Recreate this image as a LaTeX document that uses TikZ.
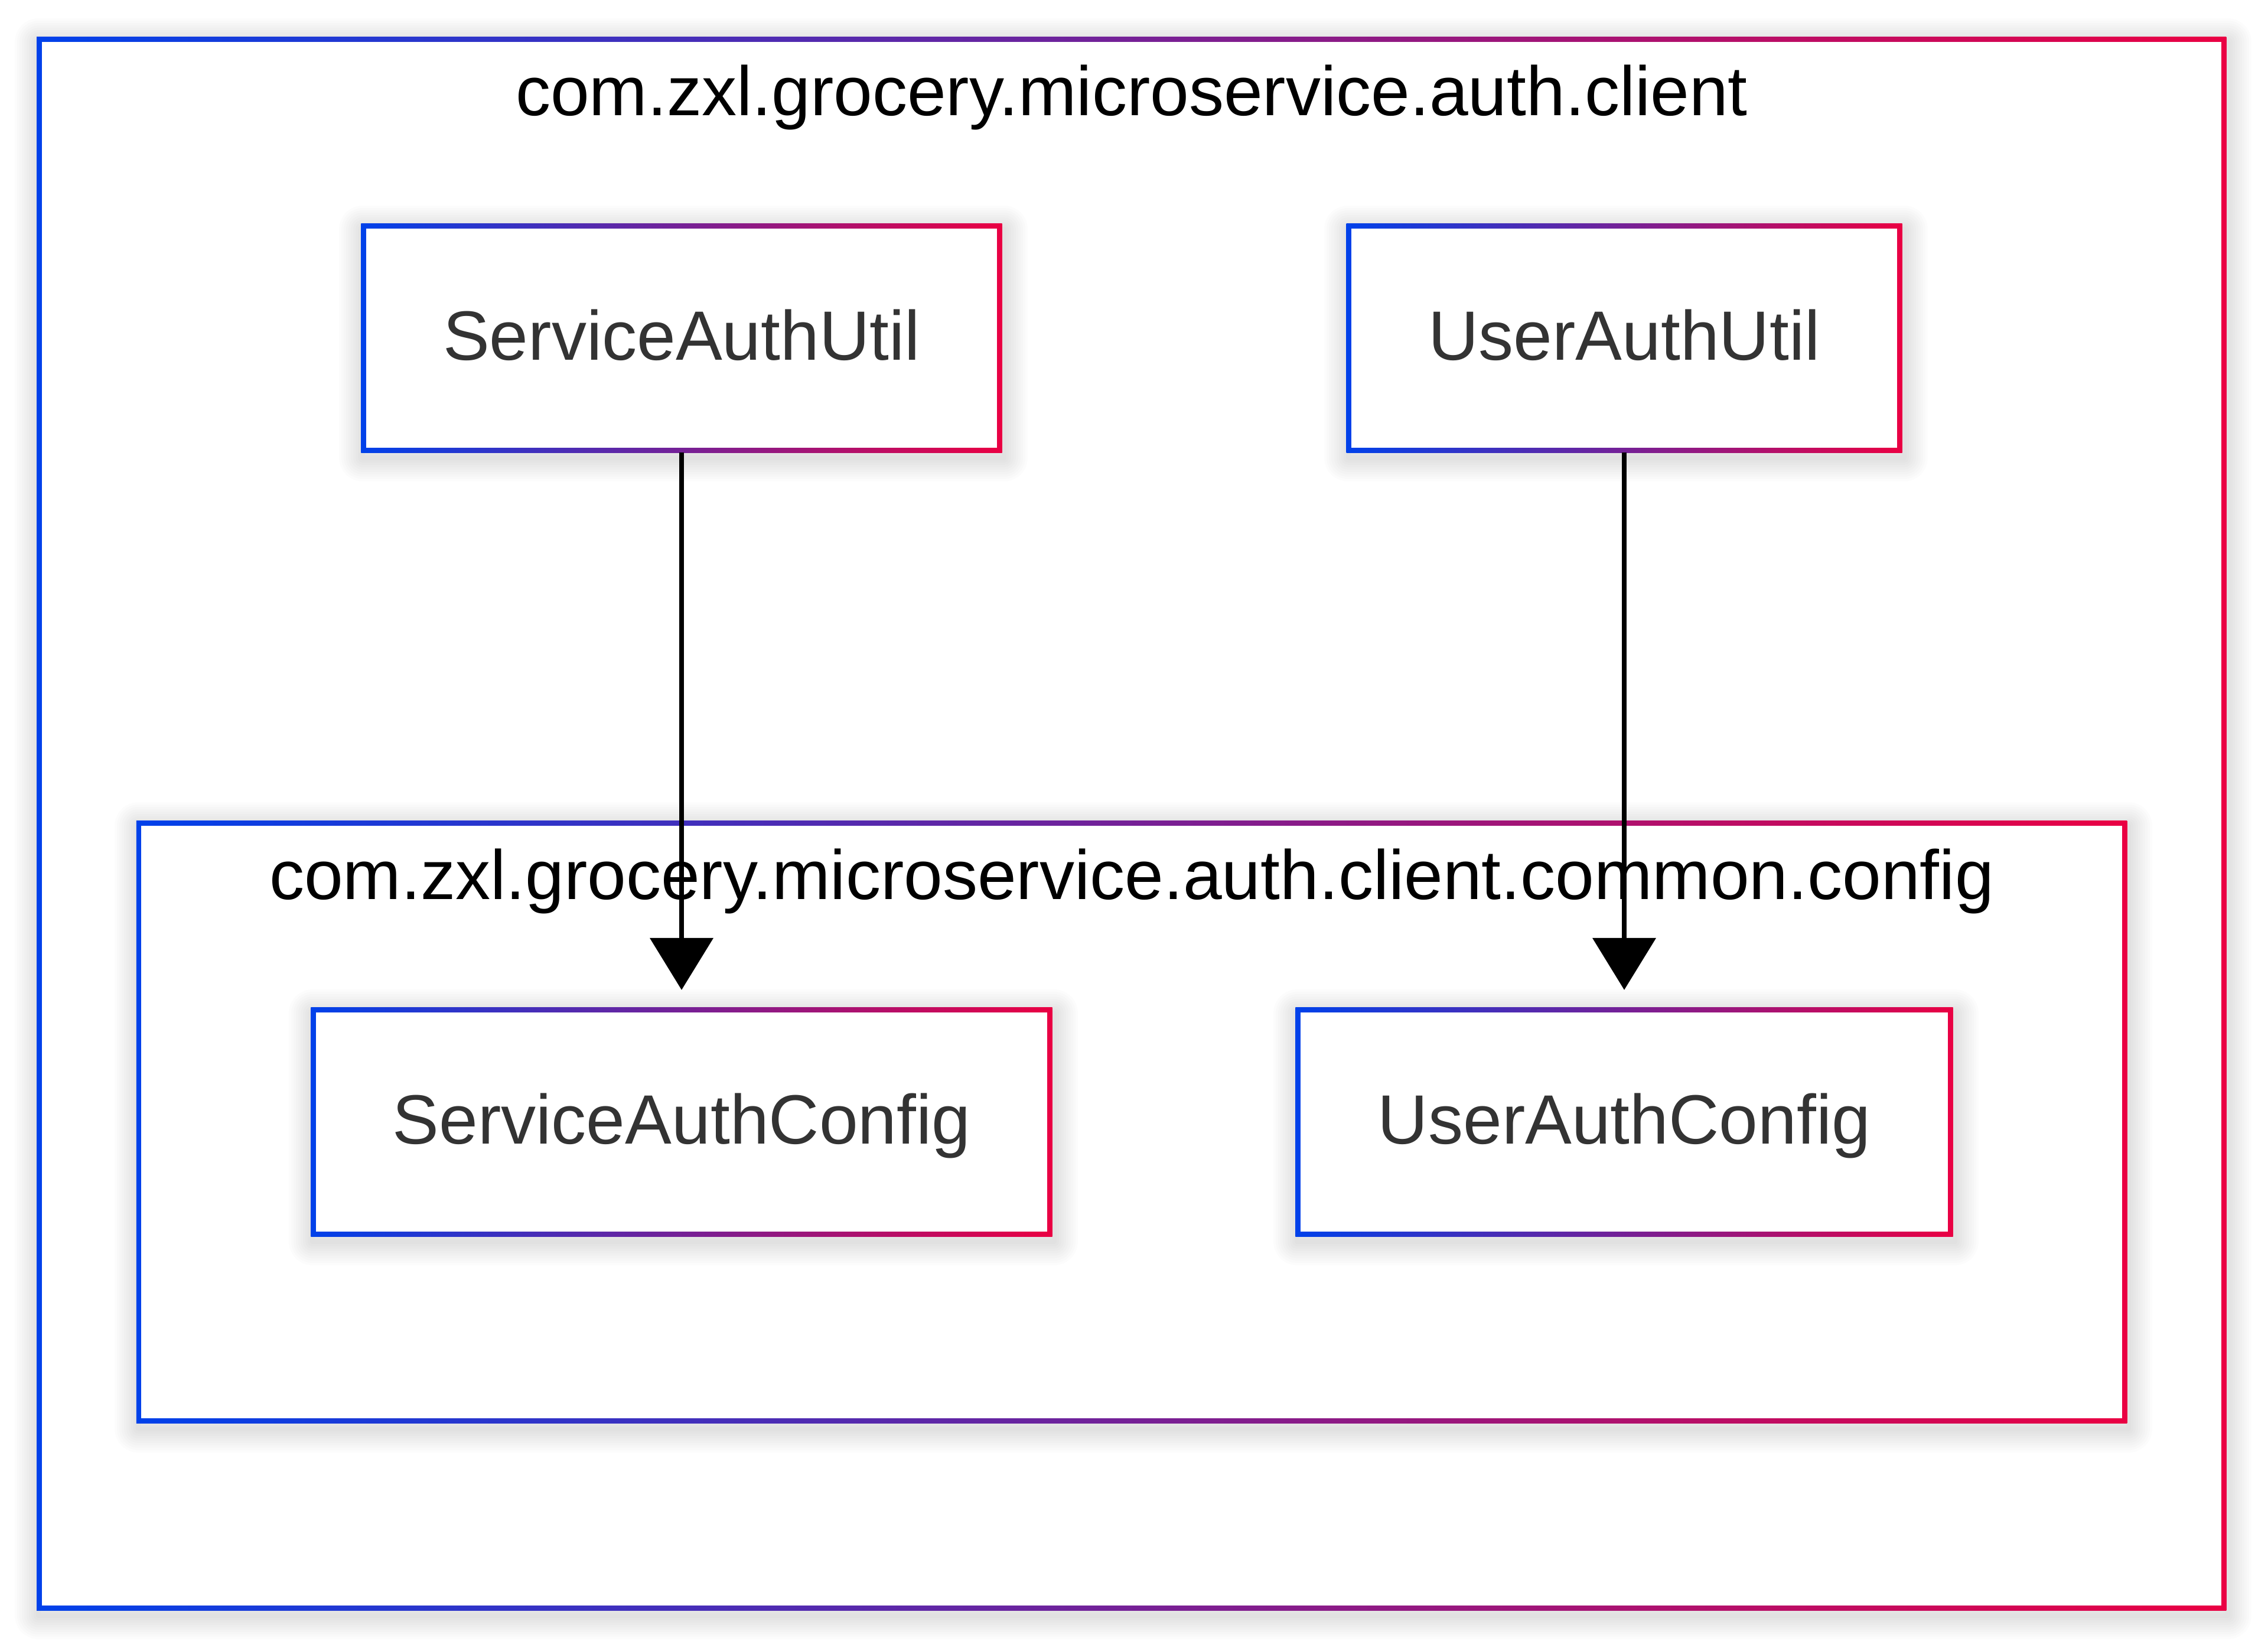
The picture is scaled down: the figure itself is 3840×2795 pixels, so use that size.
\documentclass[tikz,border=0pt]{standalone}
\usepackage{fontspec}
\setmainfont{Liberation Sans}
\usetikzlibrary{arrows.meta}
\definecolor{gb}{HTML}{0041EA}
\definecolor{gr}{HTML}{EA0043}
\definecolor{txt}{HTML}{333333}
\tikzset{
  shl/.style={preaction={draw=black, draw opacity=0.013, line width=#1, line join=round, transform canvas={shift={(0.03cm,-0.09cm)}}}},
  softshadow/.style={shl=0.8cm, shl=0.72cm, shl=0.64cm, shl=0.56cm, shl=0.48cm, shl=0.40cm, shl=0.32cm, shl=0.24cm, shl=0.16cm, shl=0.08cm},
  box/.style={rectangle, inner sep=0pt, outer sep=0pt, softshadow, left color=gb, right color=gr,
    path picture={\fill[white] ([shift={(0.085cm,0.085cm)}]path picture bounding box.south west) rectangle ([shift={(-0.085cm,-0.085cm)}]path picture bounding box.north east);},
    text=txt, font=\fontsize{33.6}{40}\selectfont, text height=0.74cm, text depth=0pt},
  arr/.style={line width=0.08cm, -{Triangle[width=1.06cm,length=0.88cm]}, shorten >=0.2975cm},
  ttl/.style={font=\fontsize{33.6}{40}\selectfont, text=black, inner sep=0pt, anchor=base}
}
\begin{document}
\begin{tikzpicture}[x=0.01cm, y=-0.01cm]
\useasboundingbox (0,0) rectangle (3840,2795);
\node[box, minimum width=37.05cm, minimum height=26.62cm] (outer) at (1915.75,1394.25) {};
\node[ttl] (outert) at (1916,195.5) {com.zxl.grocery.microservice.auth.client};
\node[box, minimum width=10.845cm, minimum height=3.875cm] (sau) at (1154,572.5) {ServiceAuthUtil};
\node[box, minimum width=9.405cm, minimum height=3.875cm] (uau) at (2750,572.5) {UserAuthUtil};
\node[box, minimum width=33.685cm, minimum height=10.195cm] (inner) at (1916,1899.5) {};
\node[ttl] (innert) at (1916,1522) {com.zxl.grocery.microservice.auth.client.common.config};
\node[box, minimum width=12.545cm, minimum height=3.875cm] (sac) at (1154,1899.5) {ServiceAuthConfig};
\node[box, minimum width=11.125cm, minimum height=3.875cm] (uac) at (2750,1899.5) {UserAuthConfig};
\draw[arr] (sau) -- (sac);
\draw[arr] (uau) -- (uac);
\end{tikzpicture}
\end{document}
